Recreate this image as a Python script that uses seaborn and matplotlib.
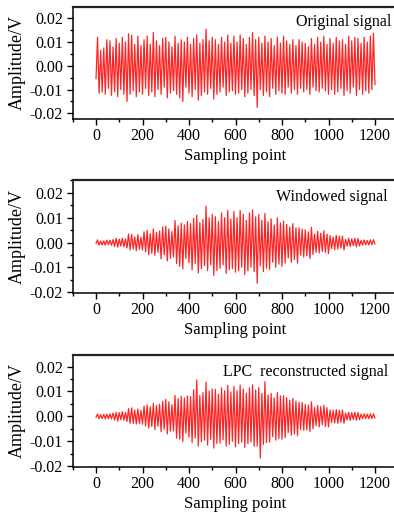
import numpy as np
import pandas as pd
import matplotlib
matplotlib.use("Agg")
import matplotlib.pyplot as plt
from matplotlib.ticker import MultipleLocator, FormatStrFormatter
import seaborn as sns

# ---------------- data (extrema of the signals, in mV) ----------------
sample_start = 0
sample_end = 1200
n_points = 181

original_mV = [
    -5.5,
    12.0, -11.5, 6.5, -11.0, 7.5, -12.0, 11.0, -9.5, 10.5, -12.5,
    8.0, -11.0, 11.5, -13.0, 9.5, -10.0, 12.0, -12.0, 10.0, -15.0,
    13.5, -12.0, 13.0, -10.5, 9.0, -13.0, 12.5, -11.0, 8.5, -12.0,
    11.0, -9.5, 12.5, -12.5, 9.0, -11.0, 14.0, -13.0, 10.5, -10.0,
    8.5, -12.0, 11.5, -9.0, 12.0, -13.5, 10.0, -11.5, 8.0, -10.5,
    12.5, -12.0, 9.5, -13.5, 11.0, -15.0, 10.0, -9.0, 12.0, -11.5,
    9.0, -13.0, 11.5, -10.0, 13.0, -14.5, 9.5, -12.5, 11.0, -11.0,
    15.5, -12.0, 10.5, -9.5, 12.0, -14.0, 11.0, -12.0, 9.0, -11.0,
    12.0, -9.0, 10.0, -12.5, 13.0, -11.0, 9.5, -10.5, 12.5, -12.0,
    10.0, -11.5, 13.0, -10.0, 11.5, -13.0, 9.0, -11.5, 12.0, -10.0,
    14.0, -12.5, 11.0, -17.5, 12.0, -10.0, 9.5, -12.5, 12.5, -11.0,
    10.0, -13.0, 11.5, -9.5, 8.5, -12.0, 12.0, -10.5, 9.5, -11.5,
    12.5, -12.0, 10.5, -9.0, 9.0, -11.5, 11.0, -10.0, 8.5, -12.0,
    11.0, -9.5, 10.0, -11.0, 9.5, -10.0, 8.0, -12.0, 11.5, -9.0,
    9.0, -10.5, 12.0, -11.0, 10.0, -9.5, 12.5, -10.5, 9.0, -12.0,
    11.5, -10.0, 9.5, -12.0, 12.0, -11.0, 10.5, -9.5, 11.0, -12.5,
    9.0, -10.5, 12.5, -11.5, 10.5, -9.0, 12.0, -12.5, 11.5, -10.0,
    9.5, -12.0, 12.0, -10.5, 10.0, -11.5, 12.5, -10.0, 13.7, -8.0,
]

windowed_mV = [
    -0.44,
    1.07, -1.02, 0.58, -0.98, 0.67, -1.07, 0.98, -0.85, 0.93, -1.11,
    1.16, -1.60, 1.67, -1.89, 1.38, -1.45, 1.74, -1.74, 1.45, -2.18,
    3.39, -3.01, 3.26, -2.64, 2.26, -3.26, 3.14, -2.76, 2.13, -3.01,
    4.30, -3.71, 4.89, -4.89, 3.52, -4.30, 5.47, -5.08, 4.11, -3.91,
    4.65, -6.56, 6.29, -4.92, 6.56, -7.38, 5.47, -6.29, 4.38, -5.74,
    8.81, -8.46, 6.70, -9.52, 7.76, -10.58, 7.05, -6.35, 8.46, -8.11,
    7.58, -10.95, 9.68, -8.42, 10.95, -12.21, 8.00, -10.53, 9.26, -9.26,
    14.60, -11.30, 9.89, -8.95, 11.30, -13.19, 10.36, -11.30, 8.48, -10.36,
    11.93, -8.95, 9.94, -12.43, 12.92, -10.93, 9.44, -10.44, 12.43, -11.93,
    9.90, -11.39, 12.87, -9.90, 11.39, -12.87, 8.91, -11.39, 11.88, -9.90,
    13.09, -11.69, 10.29, -16.36, 11.22, -9.35, 8.88, -11.69, 11.69, -10.29,
    8.29, -10.78, 9.53, -7.88, 7.05, -9.95, 9.95, -8.70, 7.88, -9.53,
    8.61, -8.27, 7.23, -6.20, 6.20, -7.92, 7.58, -6.89, 5.86, -8.27,
    5.86, -5.06, 5.33, -5.86, 5.06, -5.33, 4.26, -6.40, 6.13, -4.80,
    3.38, -3.94, 4.50, -4.13, 3.75, -3.56, 4.69, -3.94, 3.38, -4.50,
    2.76, -2.40, 2.28, -2.88, 2.88, -2.64, 2.52, -2.28, 2.64, -3.00,
    1.24, -1.45, 1.73, -1.59, 1.45, -1.24, 1.66, -1.73, 1.59, -1.38,
    0.81, -1.02, 1.02, -0.89, 0.85, -0.98, 1.06, -0.85, 1.16, -0.64,
]

lpc_mV = [
    -0.40,
    0.95, -0.90, 0.70, -0.85, 0.80, -1.00, 0.90, -0.95, 1.00, -1.05,
    1.30, -1.50, 1.55, -1.95, 1.50, -1.35, 1.85, -1.60, 1.60, -2.05,
    3.10, -2.80, 3.40, -2.90, 2.50, -3.10, 2.95, -2.95, 2.40, -3.20,
    4.10, -3.90, 4.60, -4.70, 3.80, -4.10, 5.20, -5.30, 4.40, -4.00,
    4.90, -6.20, 6.00, -5.20, 6.80, -7.10, 5.80, -6.00, 4.70, -5.90,
    8.40, -8.80, 7.10, -9.20, 8.10, -10.20, 7.40, -6.80, 8.20, -8.40,
    8.00, -10.60, 10.70, -8.80, 14.70, -12.00, 8.40, -10.20, 9.60, -9.60,
    13.80, -11.60, 10.20, -9.30, 11.00, -12.80, 10.80, -11.00, 8.90, -10.80,
    11.50, -9.40, 10.30, -12.00, 12.50, -11.30, 9.80, -10.10, 12.00, -12.30,
    10.30, -11.00, 12.60, -10.30, 11.00, -12.50, 9.30, -11.00, 11.50, -10.30,
    12.70, -12.10, 10.60, -12.00, 11.60, -16.80, 9.20, -11.30, 14.00, -10.60,
    8.60, -10.40, 9.20, -8.20, 7.40, -9.60, 9.60, -9.00, 8.20, -9.20,
    8.30, -8.60, 7.50, -6.50, 6.50, -7.60, 7.20, -7.10, 6.10, -7.90,
    5.60, -5.30, 5.60, -5.60, 4.80, -5.50, 4.50, -6.10, 5.80, -5.00,
    3.60, -3.80, 4.30, -4.30, 3.90, -3.40, 4.40, -4.10, 3.50, -4.30,
    2.60, -2.50, 2.40, -2.70, 2.70, -2.80, 2.40, -2.40, 2.50, -2.80,
    1.30, -1.40, 1.60, -1.70, 1.50, -1.30, 1.60, -1.60, 1.50, -1.40,
    0.85, -0.95, 1.00, -0.90, 0.90, -0.95, 1.00, -0.90, 1.05, -0.70,
]

panel_titles = ["Original signal", "Windowed signal", "LPC  reconstructed signal"]
x_label = "Sampling point"
y_label = "Amplitude/V"
x_ticks = [0, 200, 400, 600, 800, 1000, 1200]
y_ticks = [-0.02, -0.01, 0.00, 0.01, 0.02]

# ---------------- figure ----------------
sns.set_theme(style="ticks")
plt.rcParams["font.family"] = ["Liberation Serif", "DejaVu Serif"]

W, H = 394, 517
fig = plt.figure(figsize=(W / 100, H / 100), dpi=100)
fig.patch.set_facecolor("white")

# axes boxes in pixels: (left, top, right, bottom)
boxes = [(72.75, 7.0, 398.25, 119.0),
         (72.75, 180.0, 398.25, 293.3),
         (72.75, 355.0, 398.25, 466.7)]
ylims = [(-0.0224, 0.02476), (-0.0204, 0.0251), (-0.0203, 0.0247)]
title_pos = [(0.978, 0.866), (0.966, 0.853), (0.969, 0.851)]

x = np.linspace(sample_start, sample_end, n_points)
series = [original_mV, windowed_mV, lpc_mV]

for i, (vals, box) in enumerate(zip(series, boxes)):
    l, t, r, b = box
    ax = fig.add_axes([l / W, (H - b) / H, (r - l) / W, (b - t) / H])
    df = pd.DataFrame({"x": x, "y": np.array(vals) * 0.001})
    sns.lineplot(data=df, x="x", y="y", ax=ax, color="#ff2424", lw=0.9,
                 estimator=None, sort=False)
    ax.set_xlim(-100, 1300)
    ax.set_ylim(*ylims[i])
    ax.set_xticks(x_ticks)
    ax.set_yticks(y_ticks)
    ax.xaxis.set_minor_locator(MultipleLocator(100))
    ax.yaxis.set_minor_locator(MultipleLocator(0.005))
    ax.yaxis.set_major_formatter(FormatStrFormatter("%.2f"))
    ax.tick_params(axis="both", which="major", direction="out", length=4,
                   width=1.0, labelsize=11.5, color="black", labelcolor="black")
    ax.tick_params(axis="both", which="minor", direction="out", length=2.3,
                   width=1.0, color="black")
    ax.tick_params(axis="x", which="major", pad=2.5)
    ax.tick_params(axis="y", which="major", pad=3.0)
    ax.set_xlabel(x_label, fontsize=12, labelpad=3, color="black")
    ax.set_ylabel(y_label, fontsize=13, labelpad=3, color="black")
    ax.spines["right"].set_visible(False)
    for s in ["left", "bottom"]:
        ax.spines[s].set_linewidth(1.1)
        ax.spines[s].set_color("black")
    ax.spines["top"].set_linewidth(1.6)
    ax.spines["top"].set_color("#222222")
    ax.set_facecolor("white")
    ax.grid(False)
    tx, ty = title_pos[i]
    ax.text(tx, ty, panel_titles[i], transform=ax.transAxes, ha="right",
            va="center", fontsize=11.5, color="black")

fig.savefig("out.png", dpi=100, facecolor="white")
